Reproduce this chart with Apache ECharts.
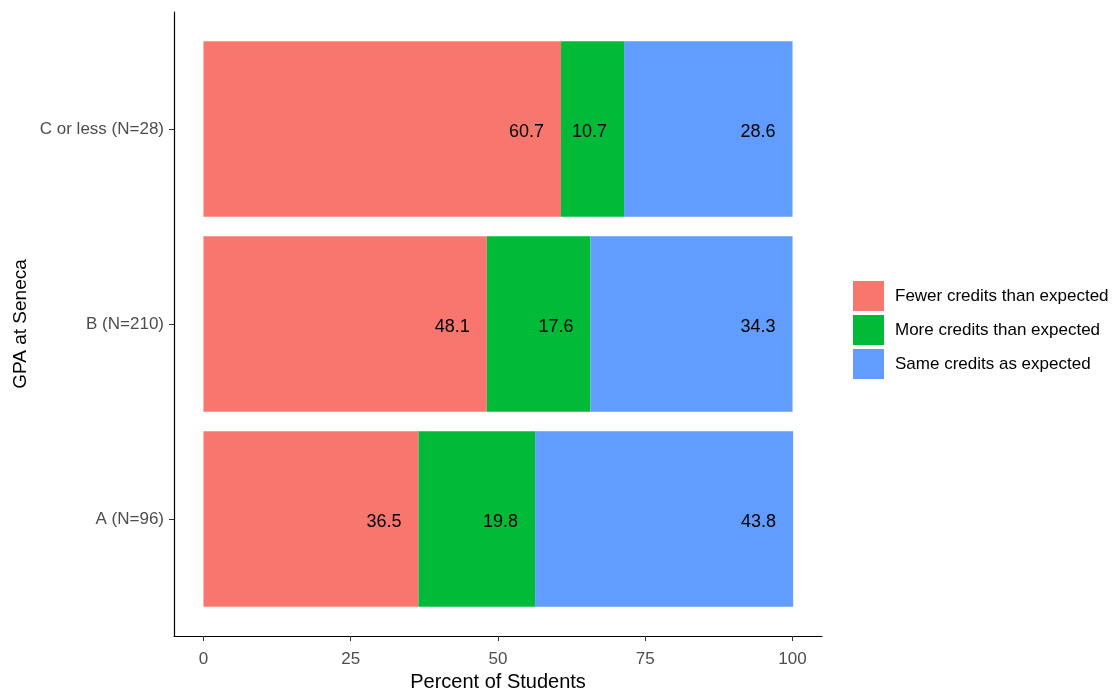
<!DOCTYPE html>
<html>
<head>
<meta charset="utf-8">
<script src="https://cdn.jsdelivr.net/npm/echarts@6/dist/echarts.min.js"></script>
<style>
html,body{margin:0;padding:0;background:#fff;}
#chart{width:1116px;height:692px;}
</style>
</head>
<body>
<div id="chart"></div>
<script>
const categories = ["A (N=96)", "B (N=210)", "C or less (N=28)"];
const seriesNames = ["Fewer credits than expected", "More credits than expected", "Same credits as expected"];
const fewer = [36.5, 48.1, 60.7];
const more = [19.8, 17.6, 10.7];
const same = [43.8, 34.3, 28.6];
const xTicks = [0, 25, 50, 75, 100];
const colors = ["#F8766D", "#00BA38", "#619CFF"];

const FONT = "'Liberation Sans', Arial, sans-serif";
const chart = echarts.init(document.getElementById('chart'), null, {renderer: 'canvas'});

function barSeries(name, data, color) {
  return {
    name: name,
    type: 'bar',
    stack: 'total',
    xAxisIndex: 0,
    yAxisIndex: 0,
    barWidth: '90%',
    data: data,
    itemStyle: {color: color},
    label: {
      show: true,
      position: 'insideRight',
      distance: 17,
      offset: [0, 3],
      color: '#000',
      fontSize: 18,
      fontFamily: FONT,
      formatter: p => p.value.toFixed(1)
    },
    emphasis: {disabled: true}
  };
}

chart.setOption({
  animation: false,
  textStyle: {fontFamily: FONT},
  grid: [
    {left: 174, right: 294, top: 31.5, height: 585, containLabel: false, outerBoundsMode: 'none'},
    {left: 174, right: 294, top: 12, bottom: 56, containLabel: false, outerBoundsMode: 'none'}
  ],
  xAxis: [
    {gridIndex: 0, type: 'value', min: -5, max: 105, show: false},
    {
      gridIndex: 1, type: 'value', min: -5, max: 105,
      axisLine: {show: true, onZero: false, lineStyle: {color: '#000', width: 1.2}},
      axisTick: {show: true, length: 5, customValues: xTicks, lineStyle: {color: '#333'}},
      axisLabel: {customValues: xTicks, color: '#4D4D4D', fontSize: 17, margin: 15, fontFamily: FONT},
      splitLine: {show: false},
      name: 'Percent of Students',
      nameLocation: 'middle',
      nameGap: 35,
      nameTextStyle: {color: '#000', fontSize: 20, fontFamily: FONT}
    }
  ],
  yAxis: [
    {
      gridIndex: 0, type: 'category', data: categories,
      axisLine: {show: false, onZero: false},
      axisTick: {show: true, length: 5, alignWithLabel: true, lineStyle: {color: '#333'}},
      axisLabel: {color: '#4D4D4D', fontSize: 17, margin: 10, padding: [6, 0, 0, 0], fontFamily: FONT},
      splitLine: {show: false}
    },
    {
      gridIndex: 1, type: 'value', min: 0, max: 1,
      axisLine: {show: true, onZero: false, lineStyle: {color: '#000', width: 1.2}},
      axisTick: {show: false},
      axisLabel: {show: false},
      splitLine: {show: false},
      name: 'GPA at Seneca',
      nameLocation: 'middle',
      nameRotate: 90,
      nameGap: 144,
      nameTextStyle: {color: '#000', fontSize: 19, fontFamily: FONT}
    }
  ],
  legend: {
    orient: 'vertical',
    left: 853,
    top: 281,
    padding: 0,
    itemWidth: 31,
    itemHeight: 30,
    itemGap: 4,
    icon: 'rect',
    data: seriesNames,
    textStyle: {color: '#000', fontSize: 17, fontFamily: FONT, padding: [0, 0, 0, 6]}
  },
  series: [
    barSeries(seriesNames[0], fewer, colors[0]),
    barSeries(seriesNames[1], more, colors[1]),
    barSeries(seriesNames[2], same, colors[2])
  ]
});
</script>
</body>
</html>
